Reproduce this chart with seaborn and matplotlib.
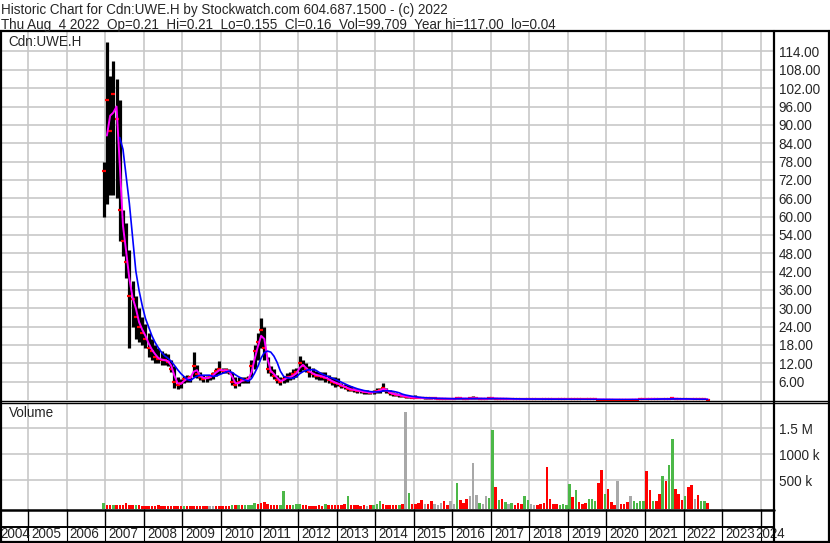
import numpy as np
import pandas as pd
import matplotlib
matplotlib.use("Agg")
import matplotlib.pyplot as plt
from matplotlib.lines import Line2D
import seaborn as sns

# ---- data: monthly bars, Dec 2006 .. Aug 2022 ----
months = pd.date_range("2006-12-01", "2022-08-01", freq="MS")

high = [78,
        117, 106, 111, 105, 98, 62, 58, 49, 39, 34, 30, 27,
        25, 22, 20, 18, 17, 16, 15.5, 15, 13, 11, 7.5, 7,
        8, 8.2, 8, 15.8, 11.4, 9, 8.2, 8, 8.2, 9, 10.5, 12.8,
        10.4, 10.4, 10.2, 9, 7.6, 7.5, 7.6, 7.6, 8, 13, 18, 21.8,
        26.7, 24, 14, 11, 10, 8.2, 7.5, 8, 8.7, 9, 10, 10.4,
        14.4, 13, 12, 11, 10.4, 9.5, 9.3, 9, 9.3, 8.2, 7.6, 7.6,
        7.1, 5.5, 5.2, 4.9, 4.5, 4.0, 3.6, 3.4, 3.3, 3.2, 3.1, 3.3,
        3.8, 4.0, 5.7, 4.0, 3.2, 2.6, 2.2, 2.0, 1.8, 1.6, 1.4, 1.2,
        1.6, 1.0, 0.9, 0.8, 0.8, 0.7, 0.7, 0.6, 0.6, 0.6, 0.55, 0.5,
        0.5, 1.0, 0.7, 0.6, 0.6, 0.7, 1.2, 0.7, 0.6, 0.55, 0.6, 0.8,
        1.1, 0.7, 0.6, 0.55, 0.5, 0.45, 0.45, 0.42, 0.4, 0.4, 0.45, 0.42,
        0.4, 0.38, 0.35, 0.35, 0.35, 0.6, 0.4, 0.35, 0.5, 0.3, 0.3, 0.28,
        0.35, 0.3, 0.3, 0.25, 0.25, 0.25, 0.3, 0.28, 0.28, 0.25, 0.25, 0.22,
        0.22, 0.2, 0.18, 0.25, 0.2, 0.18, 0.18, 0.2, 0.2, 0.22, 0.22, 0.25,
        0.5, 0.7, 0.5, 0.45, 0.5, 0.5, 0.45, 0.6, 0.9, 0.7, 0.5, 0.45,
        0.4, 0.35, 0.3, 0.3, 0.28, 0.25, 0.24, 0.21]

low = [60,
       64, 67, 67, 66, 52, 47, 40, 17, 24, 20, 19, 18,
       17, 14, 13, 12, 12, 11.5, 11.5, 11, 9, 3.8, 3.5, 3.8,
       5.5, 6, 6, 7.5, 7.1, 6.5, 6, 6, 6.5, 7, 8, 8.5,
       8.7, 8.7, 8.5, 5, 3.8, 4.5, 5.5, 5.5, 5.5, 7.5, 10, 13,
       17, 13, 8.7, 8, 7, 5.5, 4.9, 5.5, 6, 6.5, 7, 7.5,
       9, 9.8, 9, 7.6, 7.5, 7, 6.5, 6.5, 6, 5.5, 5, 4.4,
       4.5, 3.8, 3.5, 3.0, 2.8, 2.7, 2.4, 2.3, 2.1, 2.0, 2.0, 2.0,
       2.2, 2.4, 2.8, 2.2, 1.6, 1.4, 1.2, 1.1, 1.0, 0.8, 0.6, 0.5,
       0.5, 0.5, 0.5, 0.4, 0.4, 0.4, 0.35, 0.35, 0.3, 0.3, 0.3, 0.3,
       0.3, 0.35, 0.4, 0.35, 0.35, 0.4, 0.4, 0.4, 0.35, 0.35, 0.3, 0.35,
       0.4, 0.35, 0.35, 0.3, 0.3, 0.3, 0.28, 0.28, 0.25, 0.25, 0.25, 0.25,
       0.25, 0.22, 0.2, 0.2, 0.2, 0.2, 0.2, 0.18, 0.2, 0.18, 0.16, 0.15,
       0.15, 0.15, 0.15, 0.14, 0.13, 0.13, 0.14, 0.14, 0.14, 0.12, 0.1, 0.1,
       0.1, 0.1, 0.08, 0.08, 0.09, 0.1, 0.1, 0.1, 0.11, 0.12, 0.12, 0.13,
       0.15, 0.2, 0.25, 0.25, 0.25, 0.25, 0.22, 0.25, 0.3, 0.3, 0.25, 0.22,
       0.2, 0.2, 0.18, 0.18, 0.16, 0.16, 0.16, 0.155]

close = [75,
         98, 88, 100, 92, 62, 52, 45, 34, 33, 27, 24, 22,
         20, 17, 16, 14, 13.5, 13, 13, 12.5, 10, 6, 5, 5.5,
         7, 7, 7.5, 11, 8.5, 7.5, 7, 7.2, 7.5, 8.5, 9.5, 10,
         9.5, 9.8, 9.2, 6, 5, 6, 6.5, 6.5, 7, 11, 16, 19,
         23, 17, 10, 9, 8, 6.5, 6, 7, 7.5, 7.5, 8.5, 9,
         12, 11, 10, 9, 8.5, 8, 8, 7.5, 7.2, 6.5, 6, 5.5,
         5.2, 4.5, 4.2, 3.6, 3.4, 3.2, 3.0, 2.8, 2.6, 2.5, 2.4, 2.6,
         3.0, 3.2, 4.0, 2.8, 2.2, 1.9, 1.7, 1.5, 1.3, 1.1, 0.9, 0.8,
         0.8, 0.7, 0.6, 0.6, 0.55, 0.5, 0.5, 0.45, 0.45, 0.4, 0.4, 0.4,
         0.4, 0.6, 0.5, 0.45, 0.45, 0.5, 0.6, 0.5, 0.45, 0.4, 0.4, 0.5,
         0.6, 0.45, 0.45, 0.4, 0.4, 0.35, 0.35, 0.33, 0.3, 0.3, 0.32, 0.3,
         0.3, 0.28, 0.25, 0.25, 0.25, 0.3, 0.25, 0.22, 0.25, 0.22, 0.2, 0.2,
         0.22, 0.2, 0.2, 0.18, 0.17, 0.17, 0.2, 0.2, 0.2, 0.16, 0.14, 0.15,
         0.14, 0.13, 0.1, 0.12, 0.12, 0.12, 0.13, 0.14, 0.15, 0.16, 0.17, 0.18,
         0.3, 0.35, 0.35, 0.3, 0.35, 0.3, 0.28, 0.4, 0.5, 0.4, 0.35, 0.3,
         0.3, 0.25, 0.22, 0.22, 0.2, 0.2, 0.2, 0.16]

# volume in thousands of shares
volume_k = [75,
            30, 25, 20, 35, 25, 30, 70, 25, 30, 20, 25, 15,
            15, 12, 10, 12, 20, 15, 10, 12, 15, 15, 12, 10,
            12, 10, 10, 15, 12, 10, 10, 12, 10, 12, 10, 15,
            10, 10, 12, 35, 30, 35, 30, 25, 35, 30, 60, 40,
            60, 90, 45, 30, 20, 25, 30, 300, 25, 20, 25, 40,
            45, 30, 20, 15, 15, 15, 20, 15, 45, 25, 20, 25,
            25, 20, 40, 200, 35, 25, 20, 15, 20, 15, 20, 25,
            40, 105, 50, 25, 20, 20, 35, 30, 40, 1810, 260, 55,
            40, 60, 125, 40, 50, 105, 40, 30, 60, 100, 35, 110,
            50, 445, 120, 60, 150, 200, 840, 220, 60, 40, 200, 170,
            1480, 370, 120, 145, 90, 40, 60, 30, 60, 40, 200, 120,
            40, 30, 25, 40, 60, 750, 150, 50, 40, 30, 40, 30,
            430, 185, 315, 80, 40, 60, 150, 150, 100, 445, 700, 250,
            330, 80, 30, 490, 50, 40, 80, 200, 100, 60, 100, 110,
            680, 320, 100, 110, 250, 580, 490, 800, 1300, 330, 250, 120,
            200, 370, 410, 150, 220, 110, 100, 60]

# bar direction per month: u = up, d = down, f = unchanged
vol_dir = list("u"
               "dduddddddudd"   # 2007
               "dddddddddddd"   # 2008
               "udddddddffdd"   # 2009
               "dddududuuuud"   # 2010
               "dddddduudduu"   # 2011
               "uddddddduddd"   # 2012
               "dddudddddfdu"   # 2013
               "uudddddudfud"   # 2014
               "dddfddfffddf"   # 2015
               "fudddfffuffu"   # 2016
               "ududufuddduu"   # 2017
               "ffddddddduuu"   # 2018
               "ududdduuuddu"   # 2019
               "dddfdddfuuuu"   # 2020
               "ddudduduuddd"   # 2021
               "uddfduud")      # 2022

years = list(range(2004, 2025))
price_ticks = list(range(6, 115, 6))
vol_ticks = [500000, 1000000, 1500000]
vol_tick_labels = ["500 k", "1000 k", "1.5 M"]

header1 = "Historic Chart for Cdn:UWE.H by Stockwatch.com 604.687.1500 - (c) 2022"
header2 = ("Thu Aug  4 2022  Op=0.21  Hi=0.21  Lo=0.155  Cl=0.16  "
           "Vol=99,709  Year hi=117.00  lo=0.04")

# ---- build frame ----
df = pd.DataFrame({"date": months, "high": high, "low": low,
                   "close": close, "vol": np.array(volume_k) * 1000.0,
                   "dir": vol_dir})
df["t"] = df["date"].dt.year + (df["date"].dt.month - 0.5) / 12.0
df["ma_fast"] = df["close"].rolling(2).mean()
df["ma_slow"] = df["close"].rolling(6).mean()

sns.set_style("white")
plt.rcParams["font.family"] = ["Liberation Sans", "DejaVu Sans"]
FS = 9.75

W, H = 830, 543
fig = plt.figure(figsize=(W / 100, H / 100), dpi=100)
fig.patch.set_facecolor("white")


def box(l, t, r, b):
    return [l / W, 1 - b / H, (r - l) / W, (b - t) / H]


ax_p = fig.add_axes(box(2, 31, 773, 400))
ax_v = fig.add_axes(box(2, 403, 773, 509))
ax_y = fig.add_axes(box(2, 509, 773, 541))

XLIM = (2004.32, 2024.32)
GRID = dict(color="#c8c8c8", lw=1.2)

# ---- price panel ----
ax_p.set_xlim(*XLIM)
ax_p.set_ylim(0, 120.7)
ax_p.set_xticks(years[1:])
ax_p.set_yticks(price_ticks)
ax_p.set_yticklabels([f"{v:.2f}" for v in price_ticks])
ax_p.yaxis.tick_right()
ax_p.tick_params(axis="y", length=0, pad=4, labelsize=FS)
ax_p.tick_params(axis="x", length=0, labelbottom=False)
ax_p.grid(True, **GRID)
ax_p.set_axisbelow(True)

ax_p.vlines(df["t"], df["low"], df["high"], color="black", lw=2.3, zorder=2)
ax_p.plot(df["t"], df["close"], ls="none", marker="_", ms=3.5, mew=1.6,
          color="#ff0000", zorder=3)
sns.lineplot(data=df, x="t", y="ma_fast", color="#ff00ff", lw=1.4, ax=ax_p,
             zorder=4)
sns.lineplot(data=df, x="t", y="ma_slow", color="#0000ff", lw=1.2, ax=ax_p,
             zorder=5)
ax_p.set_xlabel("")
ax_p.set_ylabel("")
ax_p.text(6 / 771, 1 - 11 / 369, "Cdn:UWE.H", transform=ax_p.transAxes,
          ha="left", va="center", fontsize=FS)

# ---- volume panel ----
VLO, VHI = -48000, 1990000
ax_v.set_xlim(*XLIM)
ax_v.set_ylim(VLO, VHI)
ax_v.set_xticks(years[1:])
ax_v.set_yticks(vol_ticks)
ax_v.set_yticklabels(vol_tick_labels)
ax_v.yaxis.tick_right()
ax_v.tick_params(axis="y", length=0, pad=4, labelsize=FS)
ax_v.tick_params(axis="x", length=0, labelbottom=False)
ax_v.grid(True, **GRID)
ax_v.set_axisbelow(True)
colors = df["dir"].map({"u": "#4cb848", "d": "#ff0000", "f": "#a8a8a8"})
ax_v.bar(df["t"], df["vol"] - VLO, bottom=VLO, width=0.065, color=colors,
         lw=0, zorder=2)
ax_v.text(7 / 771, 1 - 10 / 106, "Volume", transform=ax_v.transAxes,
          ha="left", va="center", fontsize=FS)

# ---- year band ----
ax_y.set_xlim(*XLIM)
ax_y.set_ylim(32, 0)
ax_y.set_xticks([])
ax_y.set_yticks([])
ax_y.vlines(years[1:], 0, 18, color="black", lw=1.0)
ax_y.vlines(years[1:], 18, 32, color="black", lw=0.8)
for yr in years:
    if yr == years[0]:
        xpos = XLIM[0] - 0.05
    elif yr == years[-1]:
        xpos = yr - 0.14
    else:
        xpos = yr + 0.08
    ax_y.text(xpos, 25.5, str(yr), ha="left", va="center", fontsize=FS,
              clip_on=False)

for ax in (ax_p, ax_v, ax_y):
    for s in ax.spines.values():
        s.set_visible(False)


# ---- frame lines in pixel coordinates ----
def hline(y, x0, x1, lw):
    fig.add_artist(Line2D([x0 / W, x1 / W], [1 - y / H, 1 - y / H],
                          transform=fig.transFigure, color="black", lw=lw))


def vline(x, y0, y1, lw):
    fig.add_artist(Line2D([x / W, x / W], [1 - y0 / H, 1 - y1 / H],
                          transform=fig.transFigure, color="black", lw=lw))


hline(31, 0, 830, 1.6)
hline(400.5, 0, 829, 1.0)
hline(402.5, 0, 829, 1.0)
hline(509.5, 0, 774, 1.8)
hline(527, 0, 774, 1.4)
hline(541.5, 0, 830, 1.6)
vline(1, 31, 542, 1.6)
vline(773.5, 31, 542, 1.6)
vline(828.5, 31, 542, 1.6)

fig.text(1 / W, 1 - 10 / H, header1, ha="left", va="center", fontsize=FS)
fig.text(1 / W, 1 - 24.5 / H, header2, ha="left", va="center", fontsize=FS)

fig.savefig("out.png", dpi=100, facecolor="white")
